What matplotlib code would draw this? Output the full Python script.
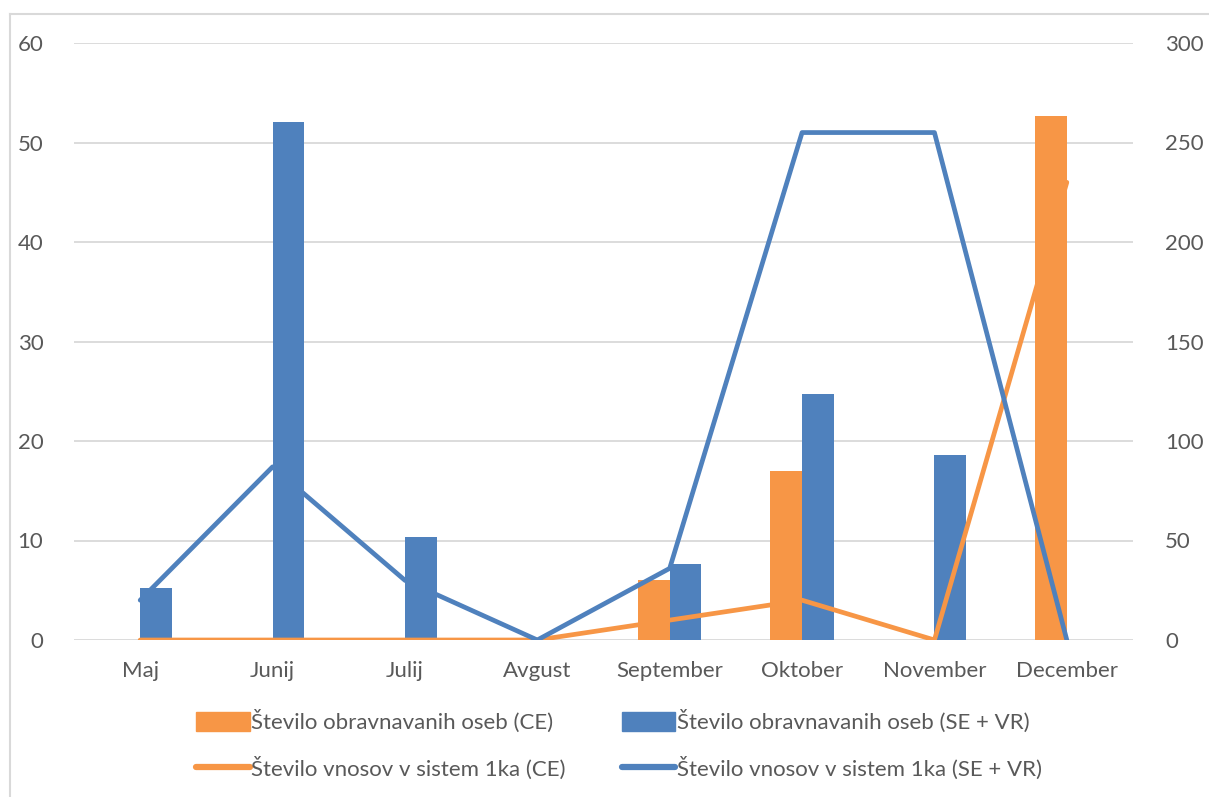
import numpy as np
import matplotlib
matplotlib.use('Agg')
import matplotlib.pyplot as plt
from matplotlib.lines import Line2D

meseci = ['Maj', 'Junij', 'Julij', 'Avgust', 'September', 'Oktober', 'November', 'December']
osebe_ce = [0, 0, 0, 0, 6, 17, 0, 52.7]
osebe_se = [5.2, 52.1, 10.4, 0, 7.6, 24.7, 18.6, 0]
vnosi_ce = [0, 0, 0, 0, 10, 20, 0, 230]
vnosi_se = [20, 87, 30, 0, 36, 255, 255, 0]

oranzna = '#F79646'
modra = '#4F81BD'
siva = '#595959'

plt.rcParams['font.family'] = ['Lato', 'DejaVu Sans']
plt.rcParams['font.size'] = 16

fig = plt.figure(figsize=(12.09, 7.97), dpi=100)
ax = fig.add_axes([74/1209, 1 - 640/797, (1133-74)/1209, (640-43)/797])
ax2 = ax.twinx()

x = np.arange(len(meseci))
sirina = 0.24
ax.bar(x - sirina/2, osebe_ce, sirina, color=oranzna, zorder=2)
ax.bar(x + sirina/2, osebe_se, sirina, color=modra, zorder=2)

ax2.plot(x, vnosi_ce, color=oranzna, lw=3.4, solid_capstyle='round', zorder=3)
ax2.plot(x, vnosi_se, color=modra, lw=3.4, solid_capstyle='round', zorder=4)

ax.set_xlim(-0.5, len(meseci) - 0.5)
ax.set_ylim(0, 60)
ax.set_yticks(range(0, 61, 10))
ax2.set_ylim(0, 300)
ax2.set_yticks(range(0, 301, 50))
ax.set_xticks(x)
ax.set_xticklabels(meseci)

ax.grid(axis='y', color='#D9D9D9', lw=1.3, zorder=0)
ax.set_axisbelow(True)
for a in (ax, ax2):
    for s in a.spines.values():
        s.set_visible(False)
    a.tick_params(length=0, colors=siva, labelsize=16)
ax.tick_params(axis='y', pad=22)
ax2.tick_params(axis='y', pad=23)
ax.tick_params(axis='x', pad=15)
ax.set_zorder(ax2.get_zorder() - 1)
ax2.patch.set_visible(False)
ax.patch.set_visible(False)

# legenda
h1 = plt.Rectangle((0, 0), 1, 1, color=oranzna)
h2 = plt.Rectangle((0, 0), 1, 1, color=modra)
h3 = Line2D([], [], color=oranzna, lw=4.5, solid_capstyle='round')
h4 = Line2D([], [], color=modra, lw=4.5, solid_capstyle='round')
leg = fig.legend([h1, h3, h2, h4],
                 ['Število obravnavanih oseb (CE)', 'Število vnosov v sistem 1ka (CE)',
                  'Število obravnavanih oseb (SE + VR)', 'Število vnosov v sistem 1ka (SE + VR)'],
                 ncol=2, loc='center', bbox_to_anchor=(619/1209, 1 - 745/797),
                 frameon=False, fontsize=16, handlelength=2.4, handleheight=0.9,
                 handletextpad=0.05, columnspacing=2.55, labelspacing=1.05,
                 labelcolor=siva)

# okvir
fig.add_artist(Line2D([10/1209, 10/1209], [0, 1 - 14/797], color='#D9D9D9', lw=1.5))
fig.add_artist(Line2D([10/1209, 1], [1 - 14/797, 1 - 14/797], color='#D9D9D9', lw=1.5))

fig.savefig('out.png', dpi=100)
